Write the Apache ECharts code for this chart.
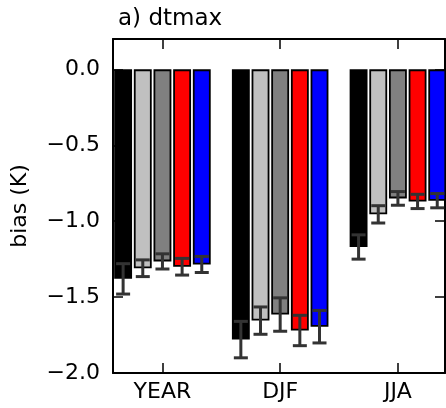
<!DOCTYPE html>
<html>
<head>
<meta charset="utf-8">
<script src="https://cdn.jsdelivr.net/npm/echarts@6/dist/echarts.min.js"></script>
<style>
html,body{margin:0;padding:0;background:#fff;}
#chart{width:446px;height:408px;}
</style>
</head>
<body>
<div id="chart"></div>
<script>
// ---- data ----
const categories = ['YEAR', 'DJF', 'JJA'];
const seriesNames = ['s1', 's2', 's3', 's4', 's5'];
const seriesColors = ['#000000', '#c0c0c0', '#808080', '#ff0000', '#0000ff'];
const values = [
  [-1.38, -1.78, -1.17],
  [-1.31, -1.655, -0.955],
  [-1.265, -1.615, -0.85],
  [-1.30, -1.72, -0.87],
  [-1.285, -1.695, -0.865]
];
const errors = [
  [0.10, 0.12, 0.08],
  [0.055, 0.09, 0.057],
  [0.05, 0.11, 0.045],
  [0.055, 0.10, 0.047],
  [0.053, 0.107, 0.047]
];
const yTicks = [-2.0, -1.5, -1.0, -0.5, 0.0];
const titleText = 'a) dtmax';
const yName = 'bias (K)';

// ---- layout constants ----
const FONT = 'DejaVu Sans';
const LABEL_SIZE = 22;
const CAT_GAP = 0.18;   // barCategoryGap fraction
const BAR_GAP = 0.10;   // barGap fraction
const n = values.length;
const barW = (1 - CAT_GAP) / (n + (n - 1) * BAR_GAP);
const pitch = barW * (1 + BAR_GAP);
const offsets = values.map((_, k) => (k - (n - 1) / 2) * pitch);
const CAP = 14;

const chart = echarts.init(document.getElementById('chart'), null, {renderer: 'canvas'});

const fmtY = v => (v < 0 ? '\u2212' : '') + Math.abs(v).toFixed(1);

const series = [];
values.forEach((vals, k) => {
  series.push({
    name: seriesNames[k],
    type: 'bar',
    xAxisIndex: 0, yAxisIndex: 0,
    barCategoryGap: (CAT_GAP * 100) + '%',
    barGap: (BAR_GAP * 100) + '%',
    itemStyle: {color: seriesColors[k], borderColor: '#000', borderWidth: 1.8},
    data: vals.map((v, i) => [i, v]),
    z: 2,
    animation: false
  });
});
values.forEach((vals, k) => {
  series.push({
    name: seriesNames[k] + '_err',
    type: 'custom',
    xAxisIndex: 0, yAxisIndex: 0,
    data: vals.map((v, i) => [i, v, errors[k][i]]),
    z: 5,
    animation: false,
    renderItem: function (params, api) {
      const x = api.value(0) + offsets[k];
      const v = api.value(1), e = api.value(2);
      const p1 = api.coord([x, v + e]);
      const p2 = api.coord([x, v - e]);
      const st = {stroke: '#333333', lineWidth: 3};
      return {
        type: 'group',
        children: [
          {type: 'line', shape: {x1: p1[0], y1: p1[1], x2: p2[0], y2: p2[1]}, style: st},
          {type: 'line', shape: {x1: p1[0] - CAP / 2, y1: p1[1], x2: p1[0] + CAP / 2, y2: p1[1]}, style: st},
          {type: 'line', shape: {x1: p2[0] - CAP / 2, y1: p2[1], x2: p2[0] + CAP / 2, y2: p2[1]}, style: st}
        ]
      };
    }
  });
});

const axisLine = {show: true, onZero: false, lineStyle: {color: '#000', width: 2}};
const tickStyle = {color: '#000', width: 1.5};

const option = {
  backgroundColor: '#ffffff',
  animation: false,
  title: {
    text: titleText, left: 113, top: 3,
    textStyle: {fontFamily: FONT, fontSize: 23, fontWeight: 'normal', color: '#000'}
  },
  grid: {left: 113, right: 1, top: 39, bottom: 35, containLabel: false},
  xAxis: [
    {
      type: 'value', position: 'bottom', min: -0.42, max: 2.40,
      axisLine: axisLine,
      splitLine: {show: false},
      axisTick: {show: true, inside: true, length: 10, lineStyle: tickStyle, customValues: [0, 1, 2]},
      axisLabel: {show: true, customValues: [0, 1, 2], margin: 8,
        formatter: v => categories[Math.round(v)] || '',
        fontFamily: FONT, fontSize: LABEL_SIZE, color: '#000'}
    },
    {
      type: 'value', position: 'top', min: -0.42, max: 2.40,
      axisLine: axisLine,
      splitLine: {show: false},
      axisTick: {show: true, inside: true, length: 10, lineStyle: tickStyle, customValues: [0, 1, 2]},
      axisLabel: {show: false}
    }
  ],
  yAxis: [
    {
      type: 'value', position: 'left', min: -2.0, max: 0.2,
      axisLine: axisLine,
      splitLine: {show: false},
      axisTick: {show: true, inside: true, length: 10, lineStyle: tickStyle, customValues: yTicks},
      axisLabel: {show: true, customValues: yTicks, margin: 13, formatter: fmtY,
        fontFamily: FONT, fontSize: LABEL_SIZE, color: '#000'},
      name: yName, nameLocation: 'middle', nameRotate: 90, nameGap: 82,
      nameTextStyle: {fontFamily: FONT, fontSize: LABEL_SIZE, color: '#000'}
    },
    {
      type: 'value', position: 'right', min: -2.0, max: 0.2,
      axisLine: axisLine,
      splitLine: {show: false},
      axisTick: {show: true, inside: true, length: 10, lineStyle: tickStyle, customValues: yTicks},
      axisLabel: {show: false}
    }
  ],
  series: series
};
chart.setOption(option);
</script>
</body>
</html>
